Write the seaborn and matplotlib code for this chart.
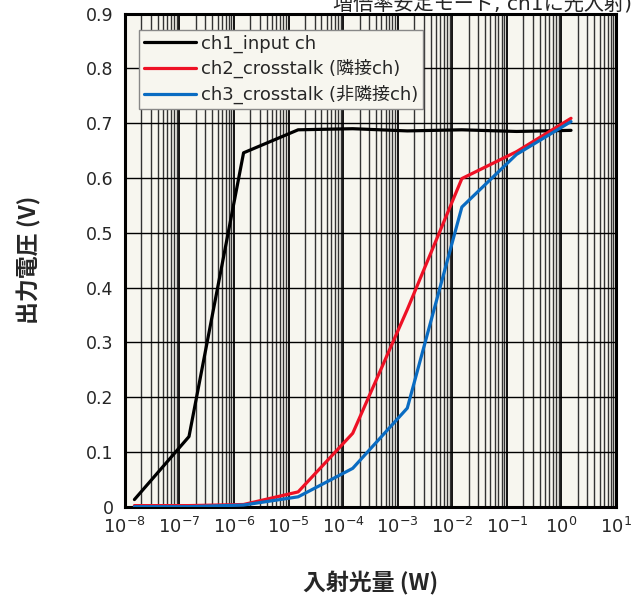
import numpy as np
import pandas as pd
import matplotlib
matplotlib.use("Agg")
import matplotlib.pyplot as plt
import matplotlib.ticker as mticker
import seaborn as sns

# ---- data ----
power_w = [1.5e-8, 1.5e-7, 1.5e-6, 1.5e-5, 1.5e-4, 1.5e-3, 1.5e-2, 1.5e-1, 1.5e0]
ch1_input = [0.013, 0.128, 0.646, 0.688, 0.690, 0.686, 0.688, 0.685, 0.687]
ch2_crosstalk = [0.002, 0.002, 0.004, 0.027, 0.134, 0.360, 0.599, 0.648, 0.709]
ch3_crosstalk = [0.000, 0.000, 0.003, 0.018, 0.070, 0.180, 0.547, 0.643, 0.703]
series_names = ["ch1_input ch", "ch2_crosstalk (隣接ch)", "ch3_crosstalk (非隣接ch)"]
series_colors = ["#000000", "#ee1125", "#0a6cc2"]
y_ticks = [0, 0.1, 0.2, 0.3, 0.4, 0.5, 0.6, 0.7, 0.8, 0.9]
y_tick_labels = ["0", "0.1", "0.2", "0.3", "0.4", "0.5", "0.6", "0.7", "0.8", "0.9"]
title_text = "増倍率安定モード, ch1に光入射)"
x_label = "入射光量 (W)"
y_label = "出力電圧 (V)"

df = pd.DataFrame({
    "power": power_w * 3,
    "voltage": ch1_input + ch2_crosstalk + ch3_crosstalk,
    "series": [series_names[0]] * len(power_w) + [series_names[1]] * len(power_w)
              + [series_names[2]] * len(power_w),
})

sns.set_style("white")
plt.rcParams["font.family"] = ["DejaVu Sans", "Noto Sans CJK JP"]

fig = plt.figure(figsize=(6.43, 6.05), dpi=100)
ax = fig.add_axes([0.1941, 0.1625, 0.958 - 0.1941, 0.9774 - 0.1625])
ax.set_facecolor("#f7f6ef")

sns.lineplot(data=df, x="power", y="voltage", hue="series", hue_order=series_names,
             palette=series_colors, linewidth=2.3, ax=ax, legend=False, sort=False,
             estimator=None, zorder=5)

ax.set_xscale("log")
ax.set_xlim(1e-8, 1e1)
ax.set_ylim(0, 0.9)
ax.xaxis.set_major_locator(mticker.LogLocator(base=10, numticks=20))
ax.xaxis.set_minor_locator(mticker.LogLocator(base=10, subs=np.arange(2, 10), numticks=20))
ax.xaxis.set_minor_formatter(mticker.NullFormatter())
ax.set_yticks(y_ticks)
ax.set_yticklabels(y_tick_labels)

ax.grid(True, which="major", axis="x", color="black", linewidth=1.3, zorder=1)
ax.grid(True, which="minor", axis="x", color="#333333", linewidth=1.0, zorder=1)
ax.grid(True, which="major", axis="y", color="black", linewidth=1.0, zorder=1)
ax.set_axisbelow(True)

for sp in ax.spines.values():
    sp.set_visible(True)
    sp.set_color("black")
    sp.set_linewidth(2.2)

ax.tick_params(axis="y", which="major", labelsize=12.5, length=5, color="black",
               direction="out", pad=3)
ax.tick_params(axis="x", which="major", labelsize=13, length=4, color="black",
               direction="out", pad=3)
ax.tick_params(axis="x", which="minor", length=0)

ax.set_xlabel(x_label, fontsize=16.5, fontweight="bold",
              family=["Noto Sans CJK JP", "DejaVu Sans"], labelpad=25)
ax.set_ylabel(y_label, fontsize=16.5, fontweight="bold",
              family=["Noto Sans CJK JP", "DejaVu Sans"], labelpad=32)

handles = [plt.Line2D([0], [0], color=c, linewidth=2.3) for c in series_colors]
leg = ax.legend(handles, series_names, loc="upper left", bbox_to_anchor=(0.029, 0.967),
                fontsize=13, frameon=True, fancybox=False, handlelength=2.9,
                handletextpad=0.3, borderpad=0.25, labelspacing=0.36, borderaxespad=0.0)
leg.get_frame().set_edgecolor("#888888")
leg.get_frame().set_facecolor("#f7f6ef")
leg.get_frame().set_alpha(1.0)
leg.get_frame().set_linewidth(1.0)

fig.text(632 / 643, 1 - 10 / 605, title_text, ha="right", va="baseline", fontsize=14.5,
         family=["DejaVu Sans", "Noto Sans CJK JP"])

fig.savefig("out.png", dpi=100)
